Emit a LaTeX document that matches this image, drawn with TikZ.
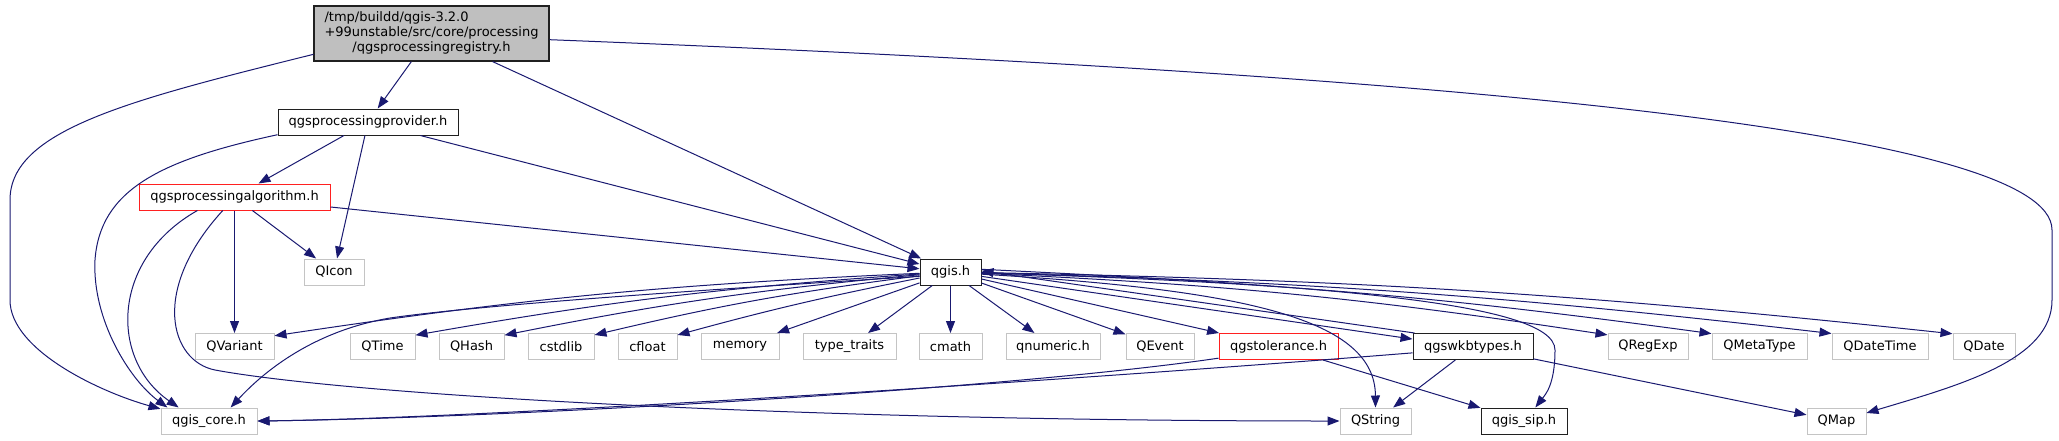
\documentclass[tikz,border=0pt]{standalone}
\usepackage{fontspec}
\setmainfont{DejaVu Sans}
\usepackage{tikz}
\usetikzlibrary{arrows.meta, positioning, calc}
\usepackage{xcolor}

\definecolor{edgeblue}{HTML}{191970}
\definecolor{rootgray}{HTML}{BFBFBF}
\definecolor{extgray}{HTML}{C4C4C4}
\definecolor{warnred}{HTML}{FF2020}
\definecolor{darkline}{HTML}{202020}

\begin{document}
\begin{tikzpicture}[
  x=1pt, y=-1pt,
  file/.style={rectangle, draw=darkline, line width=1pt, fill=white, inner sep=0pt, minimum height=26, font=\fontsize{13}{15}\selectfont},
  ext/.style={file, draw=extgray},
  warnbox/.style={file, draw=warnred},
  dep/.style={-{Triangle[length=12pt,width=9pt]}, draw=edgeblue, line width=1pt},
]
\useasboundingbox (0,0) rectangle (2059,440);

% top part
\node[file, fill=rootgray, line width=1.2pt, minimum width=235, minimum height=55] (root) at (431.5,33.5)
  {\begin{tabular}{@{}l@{}}/tmp/buildd/qgis-3.2.0\\+99unstable/src/core/processing\\\multicolumn{1}{@{}c@{}}{/qgsprocessingregistry.h}\end{tabular}};
\node[file, minimum width=180] (prov) at (368,122) {qgsprocessingprovider.h};
\node[warnbox, minimum width=191] (algo) at (234.5,197) {qgsprocessingalgorithm.h};
\node[ext, minimum width=60] (qicon) at (334,272) {QIcon};
\node[file, minimum width=61] (qgis) at (950.5,272) {qgis.h};

% row of headers
\node[ext, minimum width=79] (qvariant) at (234.5,346.5) {QVariant};
\node[ext, minimum width=65] (qtime) at (382.5,346.5) {QTime};
\node[ext, minimum width=65] (qhash) at (471.5,346.5) {QHash};
\node[ext, minimum width=66] (cstdlib) at (561,346.5) {cstdlib};
\node[ext, minimum width=59] (cfloat) at (647.5,346.5) {cfloat};
\node[ext, minimum width=78] (memory) at (740,346.5) {memory};
\node[ext, minimum width=93] (ttraits) at (849.5,346.5) {type\_traits};
\node[ext, minimum width=63] (cmath) at (950.5,346.5) {cmath};
\node[ext, minimum width=94] (qnumeric) at (1053,346.5) {qnumeric.h};
\node[ext, minimum width=68] (qevent) at (1160,346.5) {QEvent};
\node[warnbox, minimum width=119] (qgstol) at (1278.5,346.5) {qgstolerance.h};
\node[file, minimum width=120] (qgswkb) at (1473,346.5) {qgswkbtypes.h};
\node[ext, minimum width=80] (qregexp) at (1648,346.5) {QRegExp};
\node[ext, minimum width=95] (qmetatype) at (1759.5,346.5) {QMetaType};
\node[ext, minimum width=96] (qdatetime) at (1880,346.5) {QDateTime};
\node[ext, minimum width=62] (qdate) at (1984,346.5) {QDate};

% bottom row
\node[ext, minimum width=96] (core) at (209,421) {qgis\_core.h};
\node[ext, minimum width=71] (qstring) at (1375.5,421) {QString};
\node[file, minimum width=86] (qsip) at (1524,421) {qgis\_sip.h};
\node[ext, minimum width=59] (qmap) at (1836.5,421) {QMap};

\draw[dep] (root) -- (prov);
\draw[dep] (root) -- (qgis);
\draw[dep] (root.190) .. controls (130,100) and (10,130) .. (10,200) -- (10,300) .. controls (10,350) and (100,392) .. (core.166);
\draw[dep] (root.-3) .. controls (1450,75) and (2052,130) .. (2052,230) -- (2052,300) .. controls (2052,360) and (1960,385) .. (qmap.15);

\draw[dep] (prov) -- (algo);
\draw[dep] (prov) -- (qicon);
\draw[dep] (prov) -- (qgis);
\draw[dep] (prov.188) .. controls (160,160) and (100,190) .. (95,260) .. controls (92,320) and (130,380) .. (core.162);

\draw[dep] (algo) -- (qvariant);
\draw[dep] (algo) -- (qicon);
\draw[dep] (algo) -- (qgis);
\draw[dep] (algo.200) .. controls (110,260) and (110,360) .. (core.156);
\draw[dep] (algo.229) .. controls (150,290) and (170,361) .. (215,370) .. controls (350,395) and (800,421) .. (qstring.west);

\draw[dep] (qgis) to[bend right=3] (qvariant.15);
\draw[dep] (qgis) to[bend right=3] (qtime.19);
\draw[dep] (qgis) to[bend right=3] (qhash.19);
\draw[dep] (qgis) to[bend right=3] (cstdlib.19);
\draw[dep] (qgis) to[bend right=2] (cfloat.21);
\draw[dep] (qgis) -- (memory.20);
\draw[dep] (qgis.188) .. controls (700,290) and (480,305) .. (390,318) .. controls (320,330) and (270,365) .. (core.32);
\draw[dep] (qgis) -- (ttraits.36);
\draw[dep] (qgis) -- (cmath);
\draw[dep] (qgis) -- (qnumeric);
\draw[dep] (qgis) -- (qevent);
\draw[dep] (qgis) -- (qgstol);
\draw[dep] (qgis.-8) -- (qgswkb.173);
\draw[dep] (qgis.-4) .. controls (1250,290) and (1375,320) .. (qstring.north);
\draw[dep] (qgis.5) .. controls (1300,285) and (1555,300) .. (1555,350) .. controls (1555,385) and (1545,395) .. (qsip.50);
\draw[dep] (qgis) to[bend left=3] (qregexp.164);
\draw[dep] (qgis) to[bend left=3] (qmetatype.165);
\draw[dep] (qgis) to[bend left=2.5] (qdatetime.165);
\draw[dep] (qgis) to[bend left=2.5] (qdate.158);

\draw[dep] (qgstol.191) .. controls (1000,390) and (500,418) .. (core.east);
\draw[dep] (qgstol) -- (qsip);

\draw[dep] (qgswkb.167) -- (qgis.2);
\draw[dep] (qgswkb.186) .. controls (1100,378) and (500,418) .. (core.east);
\draw[dep] (qgswkb) -- (qstring);
\draw[dep] (qgswkb) -- (qmap);

\end{tikzpicture}
\end{document}
